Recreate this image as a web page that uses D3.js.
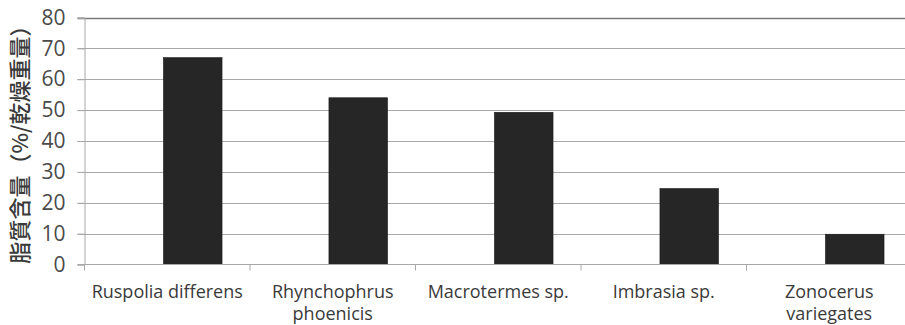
<!DOCTYPE html>
<html>
<head>
<meta charset="utf-8">
<script src="https://cdn.jsdelivr.net/npm/d3@7"></script>
<style>
  body { margin: 0; background: #fff; }
  svg { display: block; }
</style>
</head>
<body>
<svg id="chart"></svg>
<script>
const categories = ["Ruspolia differens", "Rhynchophrus phoenicis", "Macrotermes sp.", "Imbrasia sp.", "Zonocerus variegates"];
const lipidValues = [67, 54, 49.3, 24.6, 9.8];
const tickLabels = [["Ruspolia differens"], ["Rhynchophrus", "phoenicis"], ["Macrotermes sp."], ["Imbrasia sp."], ["Zonocerus", "variegates"]];
const yTicks = [0, 10, 20, 30, 40, 50, 60, 70, 80];
const yTitle = "脂質含量（%/乾燥重量）";

const chartObj = { width: 905, height: 325, left: 84.5, right: 912, top: 17.5, bottom: 264.5 };

const svg = d3.select("#chart")
  .attr("width", chartObj.width)
  .attr("height", chartObj.height);

const x = d3.scaleBand()
  .domain(categories)
  .range([chartObj.left, chartObj.right]);

const y = d3.scaleLinear()
  .domain([0, 80])
  .range([chartObj.bottom, chartObj.top]);

// gridlines
svg.append("g")
  .selectAll("line")
  .data(yTicks.filter(d => d > 0))
  .join("line")
  .attr("x1", chartObj.left - 7)
  .attr("x2", chartObj.width)
  .attr("y1", d => Math.round(y(d)) + 0.5)
  .attr("y2", d => Math.round(y(d)) + 0.5)
  .attr("stroke", d => d === 80 ? "#7a7a7a" : "#a8a8a8")
  .attr("stroke-width", d => d === 80 ? 1.5 : 1);

// bars (offset to the right inside each category, like the original)
const bw = x.bandwidth();
svg.append("g")
  .selectAll("rect")
  .data(lipidValues)
  .join("rect")
  .attr("x", (d, i) => x(categories[i]) + bw * 0.477)
  .attr("width", bw * 0.354)
  .attr("y", d => y(d))
  .attr("height", d => y(0) - y(d))
  .attr("fill", "#262626")
  .attr("stroke", "#1a1a1a")
  .attr("stroke-width", 0.6);

// y axis
const yAxis = svg.append("g")
  .attr("transform", `translate(${chartObj.left},0)`)
  .call(d3.axisLeft(y).tickValues(yTicks).tickSize(7).tickPadding(12));
yAxis.select(".domain").attr("stroke", "#a8a8a8");
yAxis.selectAll(".tick line").attr("stroke", "#a8a8a8");
yAxis.selectAll(".tick text")
  .attr("font-family", "'Open Sans', sans-serif")
  .attr("font-size", 21)
  .attr("fill", "#4a4a4a");

// x axis baseline and category ticks
const xTickPos = categories.map(c => x(c)).concat([chartObj.right]);
svg.append("line")
  .attr("x1", chartObj.left - 7)
  .attr("x2", chartObj.width)
  .attr("y1", y(0))
  .attr("y2", y(0))
  .attr("stroke", "#a8a8a8");
svg.append("g")
  .selectAll("line")
  .data(xTickPos)
  .join("line")
  .attr("x1", d => d)
  .attr("x2", d => d)
  .attr("y1", y(0))
  .attr("y2", y(0) + 6)
  .attr("stroke", "#a8a8a8");

// category labels
const labels = svg.append("g")
  .selectAll("text")
  .data(tickLabels)
  .join("text")
  .attr("x", (d, i) => x(categories[i]) + bw / 2)
  .attr("y", 298)
  .attr("text-anchor", "middle")
  .attr("font-family", "'Open Sans', sans-serif")
  .attr("font-size", 18)
  .attr("fill", "#3a3a3a");
labels.each(function (lines) {
  const t = d3.select(this);
  const cx = t.attr("x");
  lines.forEach((line, k) => {
    t.append("tspan").attr("x", cx).attr("dy", k === 0 ? 0 : 22).text(line);
  });
});

// y title
svg.append("text")
  .attr("transform", `translate(28,${(chartObj.top + chartObj.bottom) / 2 - 2}) rotate(-90)`)
  .attr("text-anchor", "middle")
  .attr("font-family", "'Noto Sans CJK JP', sans-serif")
  .attr("font-size", 22)
  .attr("font-weight", 500)
  .attr("fill", "#3a3a3a")
  .text(yTitle);
</script>
</body>
</html>
